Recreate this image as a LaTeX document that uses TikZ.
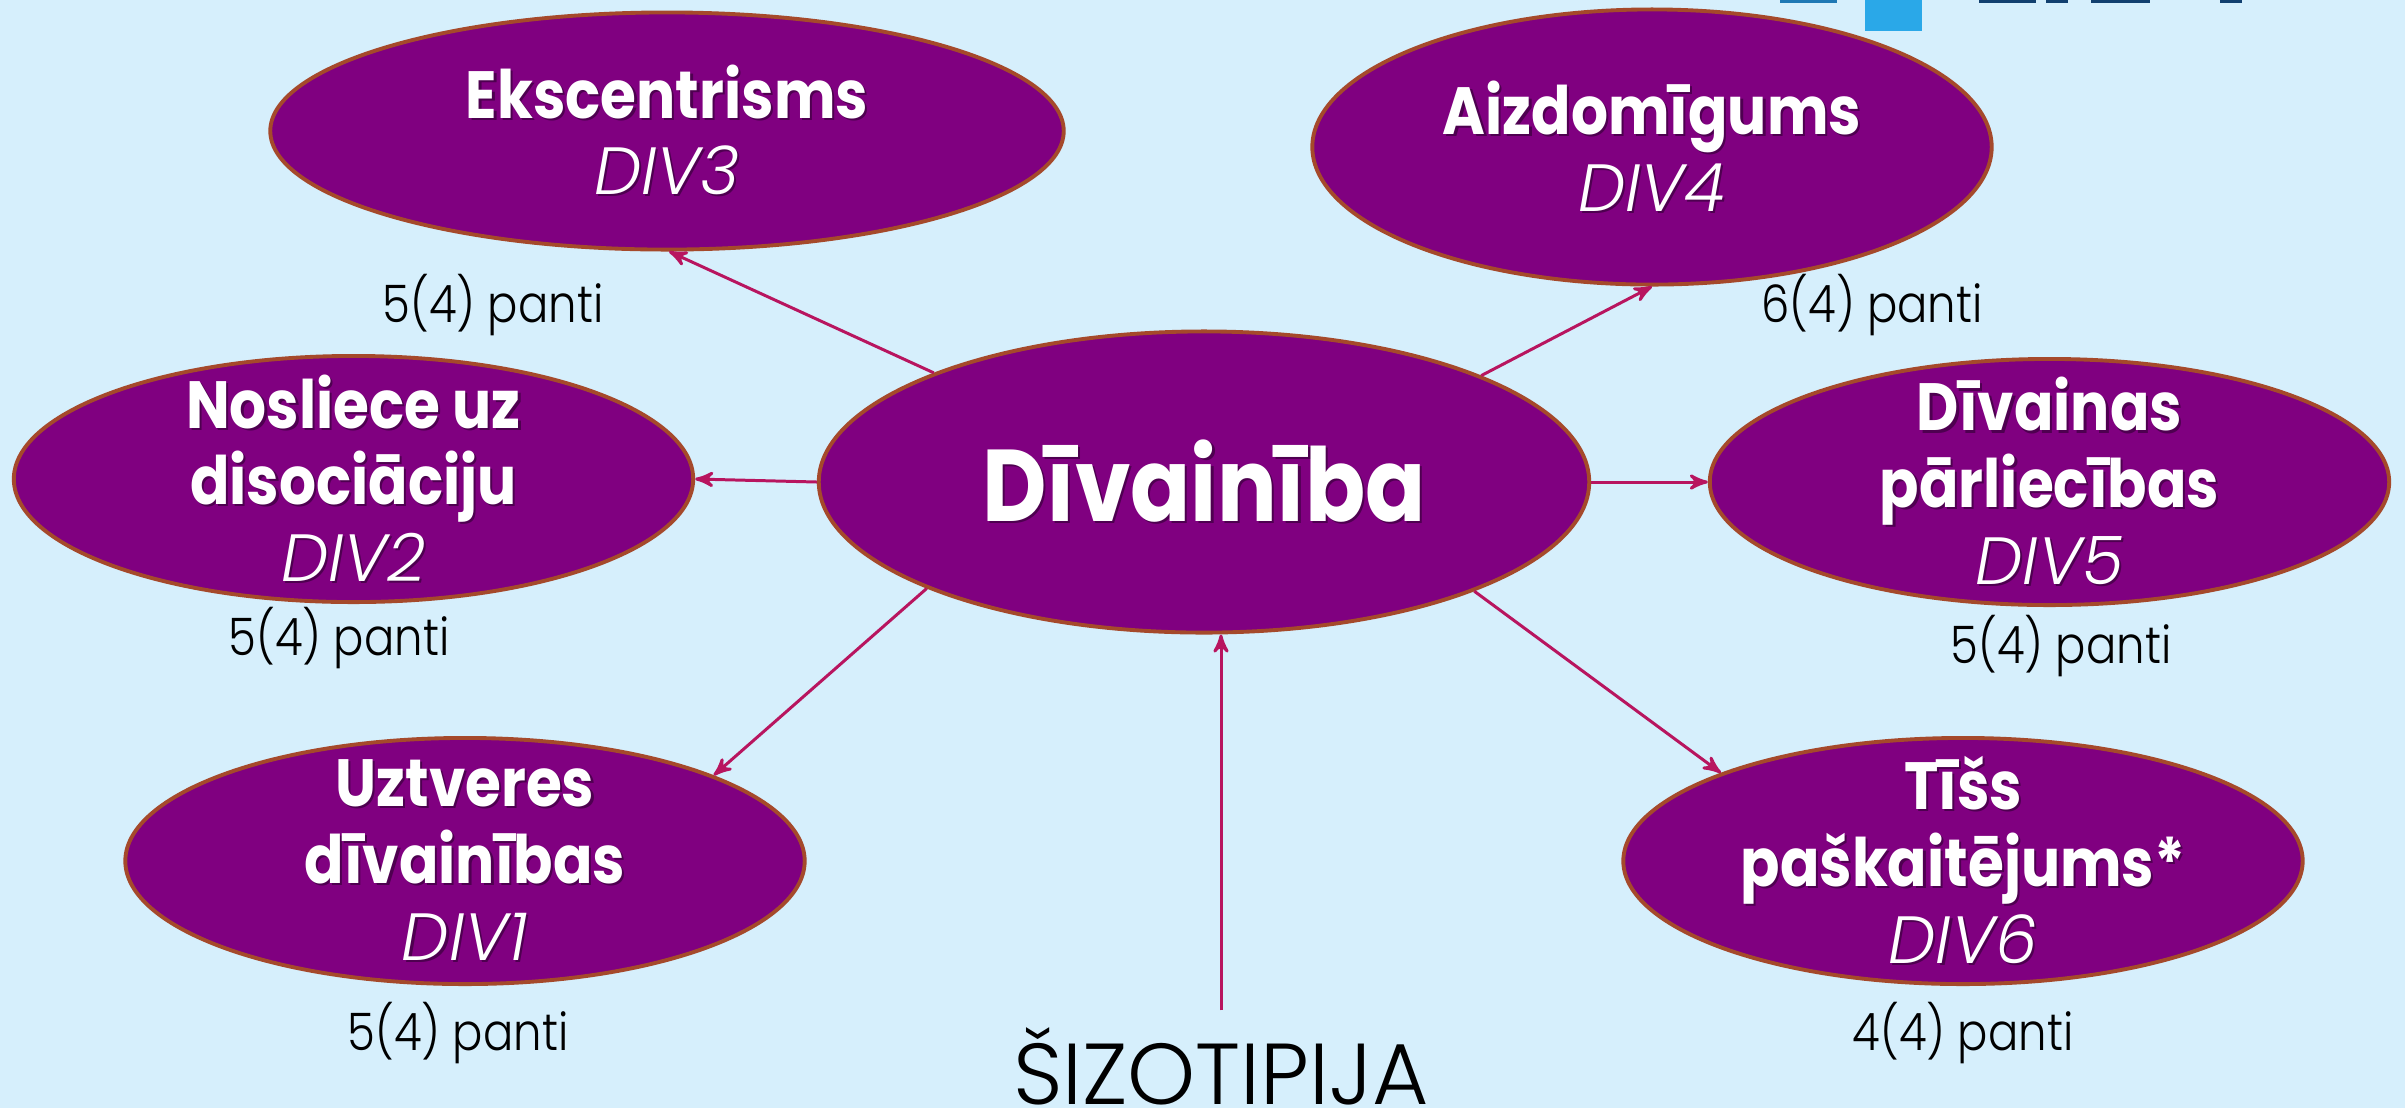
\documentclass[tikz,border=0pt]{standalone}
\usepackage{fontspec}
\setmainfont{Poppins}
\newfontfamily\lightfont{Poppins Light}
\newfontfamily\narrowlight[FakeStretch=0.87]{Poppins Light}
\newfontfamily\titlefont[FakeStretch=0.87]{Poppins Bold}
\usetikzlibrary{arrows,shapes.geometric}
\definecolor{pagebg}{HTML}{D6EFFC}
\definecolor{ovalfill}{HTML}{800080}
\definecolor{ovalline}{HTML}{A5492B}
\definecolor{arrowline}{HTML}{B8155F}
\definecolor{textshade}{HTML}{4E0050}
\definecolor{logolight}{HTML}{2AA8E8}
\definecolor{logomid}{HTML}{1F78B4}
\definecolor{logodark}{HTML}{12406F}
\newcommand{\shaded}[1]{\leavevmode\rlap{\kern0.6pt\raisebox{-0.6pt}{\color{textshade}#1}}#1}
\newcommand{\ovaltitle}[1]{{\titlefont\shaded{#1}}\\}
\newcommand{\ovalcode}[1]{{\lightfont\itshape\shaded{#1}}}
\tikzset{
    oval/.style={ellipse, draw=ovalline, fill=ovalfill, line width=1.1pt, inner sep=0pt,
        text=white, align=center, font=\fontsize{19}{21.8}\selectfont},
    threeline/.style={inner ysep=-0.42cm, minimum width=6.79cm, minimum height=2.46cm,
        execute at begin node={\rule{0pt}{17pt}}},
    verses/.style={font=\fontsize{14.7}{18}\narrowlight, text=black, inner sep=0pt},
    connector/.style={draw=arrowline}
}

\begin{document}
\begin{tikzpicture}[>=stealth', x=0.01cm, y=-0.01cm, line width=0.85pt, node distance=8cm]
    \fill [pagebg] (0,0) rectangle (2405,1108);
    \useasboundingbox (0,0) rectangle (2405,1108);

    % Logo
    \fill [logolight] (1865,0) rectangle (1922,31);
    \fill [logomid]   (1780,0) rectangle (1837,3);
    \fill [logodark]  (1979,0) rectangle (2036,3);
    \fill [logodark]  (2046,0) rectangle (2068,3);
    \fill [logodark]  (2091,0) rectangle (2150,3);
    \fill [logodark]  (2220,0) rectangle (2242,3);

    % Nodes {main, div1, div2, etc}
    \node [oval, minimum width=7.7cm, minimum height=3.01cm, font=\fontsize{29}{34}\selectfont] (main) at (1204,482) {{\titlefont\shaded{Dīvainība}}};
    \node [oval, threeline] (div2) [left of=main, node distance=8.5cm, yshift=0.03cm] {\ovaltitle{Nosliece uz}\ovaltitle{disociāciju}\ovalcode{DIV2}};
    \node [oval, threeline] (div5) [right of=main, node distance=8.45cm] {\ovaltitle{Dīvainas}\ovaltitle{pārliecības}\ovalcode{DIV5}};
    \node [oval, minimum width=7.93cm, minimum height=2.37cm] (div3) at (667,131) {\ovaltitle{Ekscentrisms}\ovalcode{DIV3}};
    \node [oval, minimum width=6.79cm, minimum height=2.75cm] (div4) at (1652,147) {\ovaltitle{Aizdomīgums}\ovalcode{DIV4}};
    \node [oval, threeline] (div1) at (465,861) {\ovaltitle{Uztveres}\ovaltitle{dīvainības}\ovalcode{DIV1}};
    \node [oval, threeline] (div6) at (1963,861) {\ovaltitle{Tīšs}\ovaltitle{paškaitējums*}\ovalcode{DIV6}};

    \node [verses] (p3) at (493,305)  {5(4) panti};
    \node [verses] (p4) at (1872,305) {6(4) panti};
    \node [verses] (p2) at (339,638)  {5(4) panti};
    \node [verses] (p5) at (2061,646) {5(4) panti};
    \node [verses] (p1) at (458,1033) {5(4) panti};
    \node [verses] (p6) at (1963,1033) {4(4) panti};
    \node [font=\fontsize{24.6}{30}\lightfont, inner sep=0pt, anchor=base, text height=0.92cm, text depth=0pt] (sizo) at (1221,1104) {ŠIZOTIPIJA};

    % Paths
    \path [->] (main.158.8) edge [connector] (div3.271.4);
    \path [->] (main.21.2)  edge [connector] (div4.270);
    \path [->] (main.180)   edge [connector] (div2.0);
    \path [->] (main.0)     edge [connector] (div5.180);
    \path [->] (main.201.5) edge [connector] (div1.19.6);
    \path [->] (main.338.5) edge [connector] (div6.160.3);
    \path [->] (sizo.north) edge [connector] (sizo.north |- main.south);

\end{tikzpicture}
\end{document}
